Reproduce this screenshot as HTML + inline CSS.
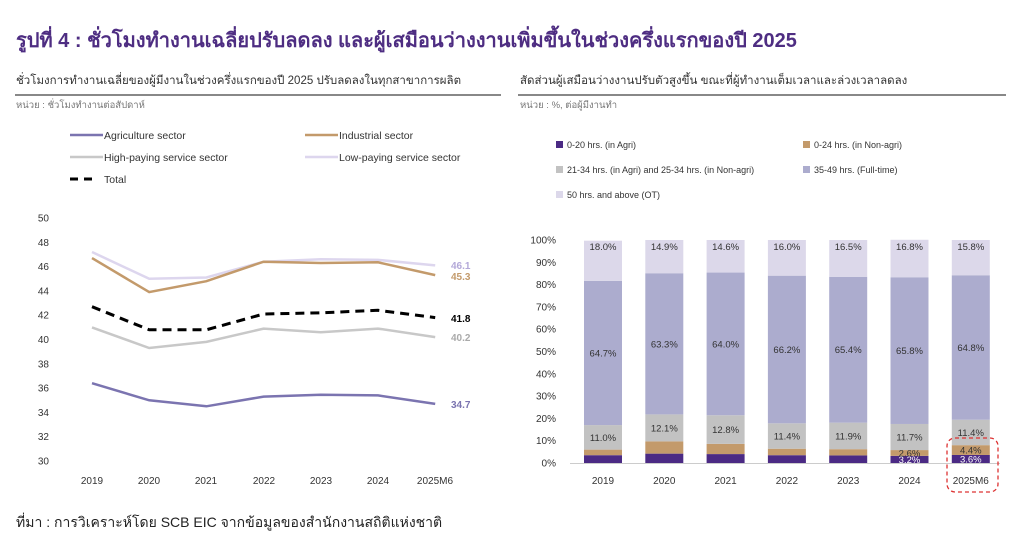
<!DOCTYPE html>
<html><head><meta charset="utf-8"><style>
body{margin:0;background:#fff;width:1024px;height:555px;overflow:hidden}
svg text{font-family:"Liberation Sans","Noto Sans CJK SC",sans-serif}
</style></head><body>
<svg id="s" width="1024" height="555" xmlns="http://www.w3.org/2000/svg">
<text x="16" y="47" font-size="20" font-weight="bold" fill="#4e2d82">รูปที่ 4 : ชั่วโมงทำงานเฉลี่ยปรับลดลง และผู้เสมือนว่างงานเพิ่มขึ้นในช่วงครึ่งแรกของปี 2025</text>
<text x="16" y="84" font-size="11.5" fill="#333">ชั่วโมงการทำงานเฉลี่ยของผู้มีงานในช่วงครึ่งแรกของปี 2025 ปรับลดลงในทุกสาขาการผลิต</text>
<rect x="15" y="94" width="486" height="2" fill="#888"/>
<text x="16" y="108" font-size="9.5" fill="#777">หน่วย : ชั่วโมงทำงานต่อสัปดาห์</text>
<text x="520" y="84" font-size="11.5" fill="#333">สัดส่วนผู้เสมือนว่างงานปรับตัวสูงขึ้น ขณะที่ผู้ทำงานเต็มเวลาและล่วงเวลาลดลง</text>
<rect x="518" y="94" width="488" height="2" fill="#888"/>
<text x="520" y="108" font-size="9.5" fill="#777">หน่วย : %, ต่อผู้มีงานทำ</text>

<g font-size="10.5" fill="#333">
<line x1="70" y1="135" x2="103" y2="135" stroke="#7b74b0" stroke-width="2.5"/><text x="104" y="139">Agriculture sector</text>
<line x1="305" y1="135" x2="338" y2="135" stroke="#c39a6b" stroke-width="2.5"/><text x="339" y="139">Industrial sector</text>
<line x1="70" y1="157" x2="103" y2="157" stroke="#c8c8c8" stroke-width="2.5"/><text x="104" y="161">High-paying service sector</text>
<line x1="305" y1="157" x2="338" y2="157" stroke="#ddd6ee" stroke-width="2.5"/><text x="339" y="161">Low-paying service sector</text>
<line x1="70" y1="179" x2="98" y2="179" stroke="#000" stroke-width="3" stroke-dasharray="8,6"/><text x="104" y="183">Total</text>
</g>
<g font-size="10" fill="#333" text-anchor="end">
<text x="49" y="221.5">50</text><text x="49" y="245.8">48</text><text x="49" y="270.1">46</text><text x="49" y="294.4">44</text><text x="49" y="318.7">42</text><text x="49" y="343">40</text><text x="49" y="367.3">38</text><text x="49" y="391.6">36</text><text x="49" y="415.9">34</text><text x="49" y="440.2">32</text><text x="49" y="464.5">30</text>
</g>
<g font-size="10" fill="#333" text-anchor="middle">
<text x="92" y="484">2019</text><text x="149" y="484">2020</text><text x="206" y="484">2021</text><text x="264" y="484">2022</text><text x="321" y="484">2023</text><text x="378" y="484">2024</text><text x="435" y="484">2025M6</text>
</g>
<g fill="none" stroke-width="2.5">
<polyline stroke="#ddd6ee" points="92,252 149.2,278.8 206.4,277.5 263.6,261.7 320.8,259.3 378,259.9 435.2,265.4"/>
<polyline stroke="#c39a6b" points="92,258.1 149.2,292.1 206.4,281.2 263.6,261.7 320.8,263 378,262.3 435.2,275.1"/>
<polyline stroke="#c8c8c8" points="92,327.4 149.2,348 206.4,341.9 263.6,328.6 320.8,332.2 378,328.6 435.2,337.1"/>
<polyline stroke="#7b74b0" points="92,383.2 149.2,400.3 206.4,406.3 263.6,396.6 320.8,394.8 378,395.4 435.2,403.9"/>
<polyline stroke="#000" stroke-width="3" stroke-dasharray="9,6" points="92,306.7 149.2,329.8 206.4,329.8 263.6,314 320.8,312.8 378,310.3 435.2,317.6"/>
</g>
<g font-size="10" font-weight="bold">
<text x="451" y="269" fill="#b3a8d8">46.1</text>
<text x="451" y="280" fill="#c39a6b">45.3</text>
<text x="451" y="322" fill="#000">41.8</text>
<text x="451" y="341" fill="#aaa">40.2</text>
<text x="451" y="408" fill="#7b74b0">34.7</text>
</g>

<g font-size="9" fill="#333">
<rect x="556" y="141" width="7" height="7" fill="#4b2a84"/><text x="567" y="148">0-20 hrs. (in Agri)</text>
<rect x="803" y="141" width="7" height="7" fill="#c39a6b"/><text x="814" y="148">0-24 hrs. (in Non-agri)</text>
<rect x="556" y="166" width="7" height="7" fill="#c2c2c2"/><text x="567" y="173">21-34 hrs. (in Agri) and 25-34 hrs. (in Non-agri)</text>
<rect x="803" y="166" width="7" height="7" fill="#acacce"/><text x="814" y="173">35-49 hrs. (Full-time)</text>
<rect x="556" y="191" width="7" height="7" fill="#dcd8ea"/><text x="567" y="198">50 hrs. and above (OT)</text>
</g>
<g id="bars"></g>
<rect x="570" y="463" width="430" height="1" fill="#ccc"/>
<rect x="947" y="438" width="51" height="54" rx="8" fill="none" stroke="#d33" stroke-width="1.3" stroke-dasharray="4,3"/>
</svg>
<script>
var ns="http://www.w3.org/2000/svg";
function el(p,t,a,tx){var e=document.createElementNS(ns,t);for(var k in a)e.setAttribute(k,a[k]);if(tx!=null)e.textContent=tx;p.appendChild(e);return e;}
var g=document.getElementById("bars");
for(var p=0;p<=100;p+=10){el(g,"text",{x:556,y:463-p*2.23+3.5,"text-anchor":"end","font-size":"10",fill:"#333"},p+"%");}
var d=[[3.5,2.5,11.0,64.7,18.0],[4.2,5.5,12.1,63.3,14.9],[4.0,4.6,12.8,64.0,14.6],[3.5,2.9,11.4,66.2,16.0],[3.4,2.8,11.9,65.4,16.5],[3.2,2.6,11.7,65.8,16.8],[3.6,4.4,11.4,64.8,15.8]];
var yrs=["2019","2020","2021","2022","2023","2024","2025M6"];
var cols=["#4b2a84","#c39a6b","#c2c2c2","#acacce","#dcd8ea"];
for(var i=0;i<7;i++){var cx=603+i*61.3,b=0;
 for(var j=0;j<5;j++){var h=d[i][j];var y0=463-(b+h)*2.23;
  el(g,"rect",{x:cx-19,y:y0,width:38,height:h*2.23,fill:cols[j]});
  var show=(j>=2)||(i>=5);
  if(show){var ty=y0+h*2.23/2+3.5;if(j==4)ty=463-97*2.23+3.5;
   el(g,"text",{x:cx,y:ty,"text-anchor":"middle","font-size":"9.5",fill:j==0?"#fff":"#333"},h.toFixed(1)+"%");}
  b+=h;}
 el(g,"text",{x:cx,y:484,"text-anchor":"middle","font-size":"10",fill:"#333"},yrs[i]);
}
</script>
<div style="position:absolute;left:16px;top:512px;font:14px 'Liberation Sans','Noto Sans CJK SC',sans-serif;color:#222">ที่มา : การวิเคราะห์โดย SCB EIC จากข้อมูลของสำนักงานสถิติแห่งชาติ</div>
</body></html>
